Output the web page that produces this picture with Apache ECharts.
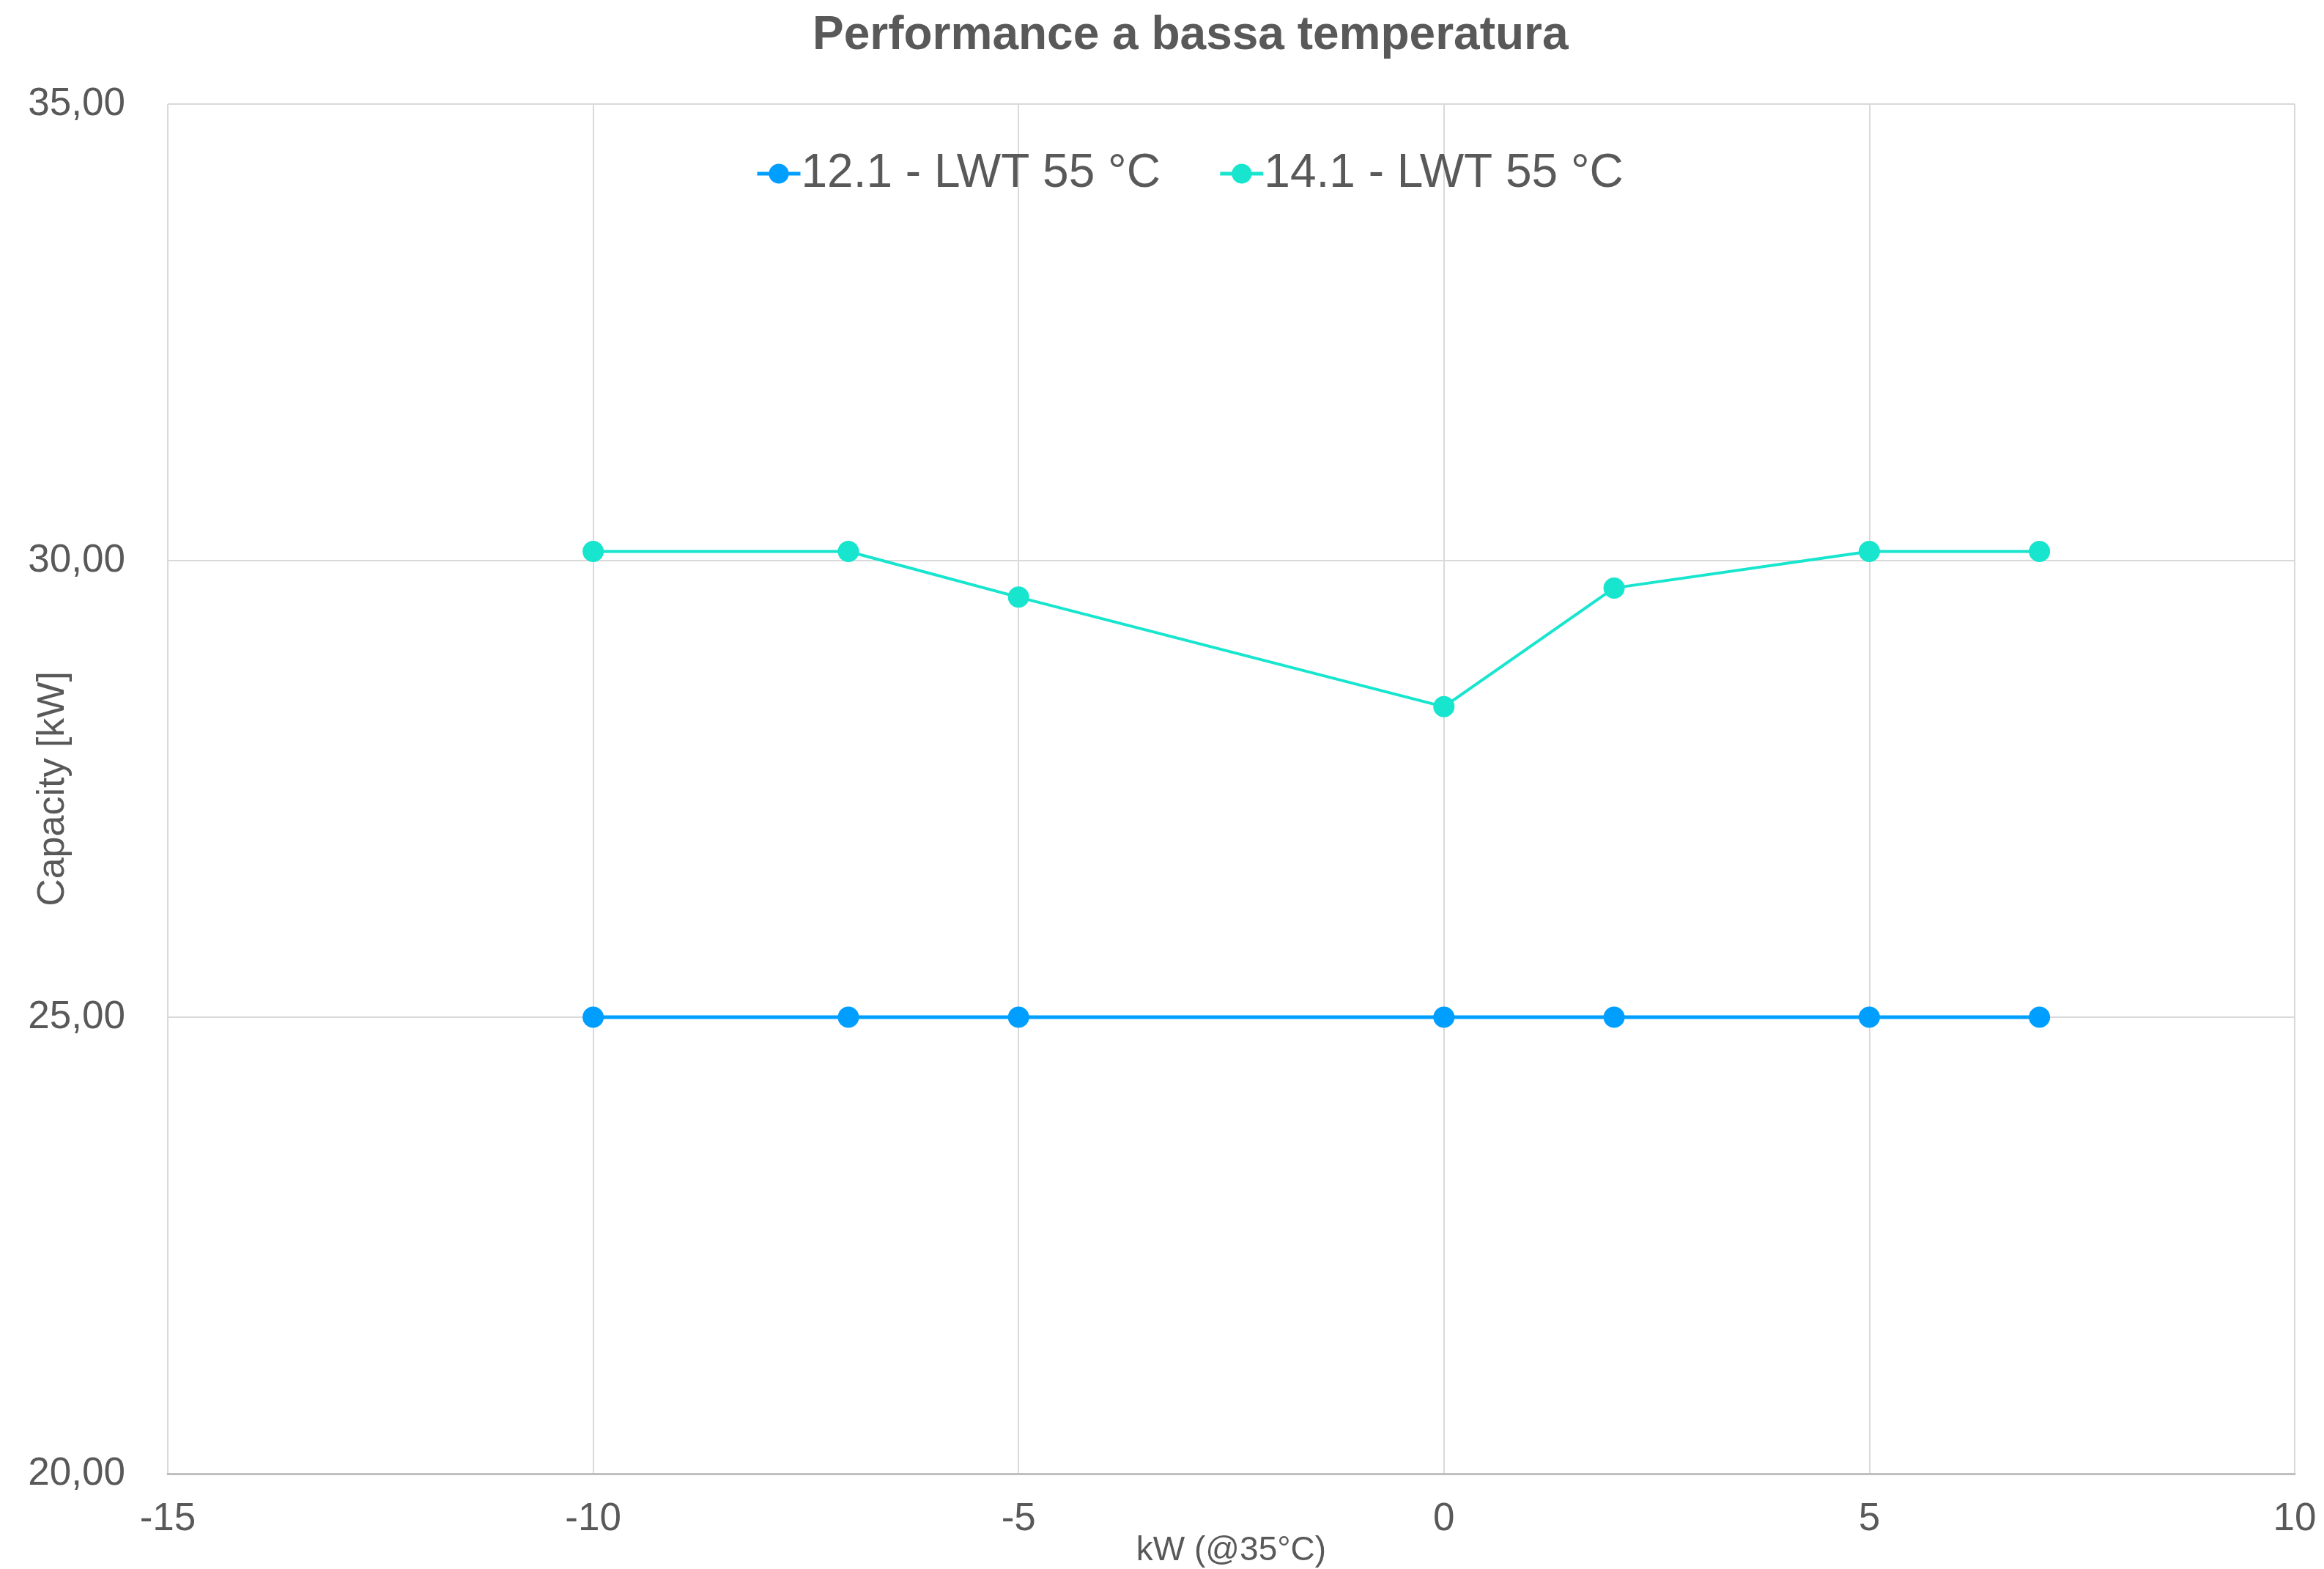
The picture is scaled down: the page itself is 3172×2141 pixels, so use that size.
<!DOCTYPE html>
<html>
<head>
<meta charset="utf-8">
<script src="https://cdn.jsdelivr.net/npm/echarts@6/dist/echarts.min.js"></script>
<style>html,body{margin:0;padding:0;background:#fff}#c{width:3172px;height:2141px}</style>
</head>
<body>
<div id="c"></div>
<script>
const titleText = 'Performance a bassa temperatura';
const xValues = [-10, -7, -5, 0, 2, 5, 7];
const seriesNames = ['12.1 - LWT 55 °C', '14.1 - LWT 55 °C'];
const values121 = [25.0, 25.0, 25.0, 25.0, 25.0, 25.0, 25.0];
const values141 = [30.1, 30.1, 29.6, 28.4, 29.7, 30.1, 30.1];
const xAxisName = 'kW (@35°C)';
const yAxisName = 'Capacity [kW]';

const textColor = '#595959';
const font = 'Liberation Sans, Arial, sans-serif';
const colors = ['#009FFF', '#17E5CE'];

const chart = echarts.init(document.getElementById('c'));
const pairs = (ys) => xValues.map((x, i) => [x, ys[i]]);

chart.setOption({
  animation: false,
  backgroundColor: '#fff',
  title: {
    text: titleText, left: 1104, top: 12,
    textStyle: { color: textColor, fontFamily: font, fontSize: 64, fontWeight: 'bold' }
  },
  legend: {
    data: seriesNames, left: 1026, top: 200,
    itemWidth: 59, itemHeight: 34, itemGap: 79,
    lineStyle: { width: 5 },
    textStyle: { color: textColor, fontFamily: font, fontSize: 64, padding: [0, 0, 0, -4] }
  },
  grid: { left: 229, right: 40, top: 142, bottom: 130, containLabel: false, outerBoundsMode: 'none' },
  xAxis: {
    type: 'value', min: -15, max: 10, interval: 5,
    name: xAxisName, nameLocation: 'middle', nameGap: 82, nameMoveOverlap: false,
    nameTextStyle: { color: textColor, fontFamily: font, fontSize: 46 },
    axisLine: { show: true, lineStyle: { color: '#BFBFBF', width: 3 } },
    axisTick: { show: false },
    axisLabel: { color: textColor, fontFamily: font, fontSize: 53, margin: 36 },
    splitLine: { show: true, lineStyle: { color: '#D9D9D9', width: 2 } }
  },
  yAxis: {
    type: 'value', min: 20, max: 35, interval: 5,
    name: yAxisName, nameLocation: 'middle', nameGap: 130, nameMoveOverlap: false,
    nameTextStyle: { color: textColor, fontFamily: font, fontSize: 52 },
    axisLine: { show: true, lineStyle: { color: '#D9D9D9', width: 2 } },
    axisTick: { show: false },
    axisLabel: {
      color: textColor, fontFamily: font, fontSize: 53, margin: 58,
      formatter: (v) => v.toFixed(2).replace('.', ',')
    },
    splitLine: { show: true, lineStyle: { color: '#D9D9D9', width: 2 } }
  },
  series: [
    {
      name: seriesNames[0], type: 'line', data: pairs(values121),
      symbol: 'circle', symbolSize: 29, color: colors[0],
      lineStyle: { width: 5, color: colors[0] }, itemStyle: { color: colors[0] }
    },
    {
      name: seriesNames[1], type: 'line', data: pairs(values141),
      symbol: 'circle', symbolSize: 29, color: colors[1],
      lineStyle: { width: 4, color: colors[1] }, itemStyle: { color: colors[1] }
    }
  ]
});
</script>
</body>
</html>
